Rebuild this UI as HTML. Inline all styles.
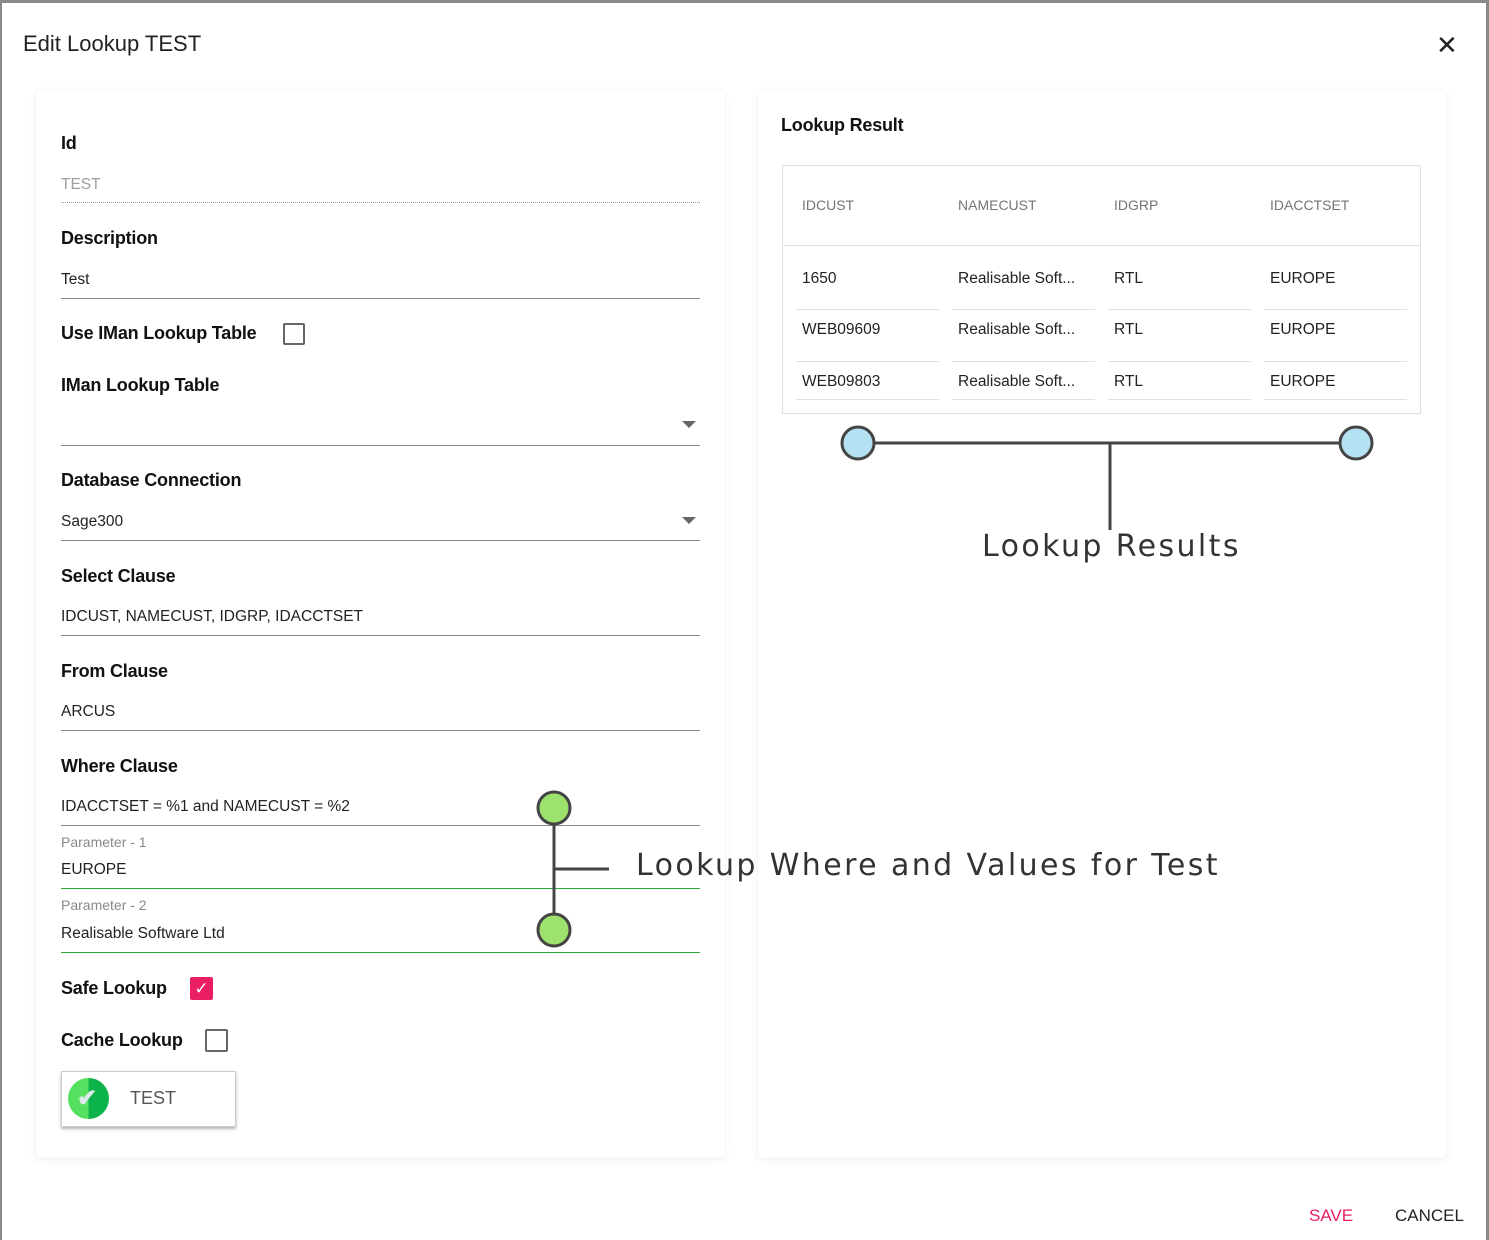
<!DOCTYPE html>
<html><head><style>
*{margin:0;padding:0;box-sizing:border-box}
body{width:1489px;height:1240px;background:#fff;font-family:"Liberation Sans",Roboto,sans-serif;position:relative;overflow:hidden;color:#212121}
.a{position:absolute;white-space:nowrap}
.lbl{font-size:18px;color:#111;font-weight:bold;letter-spacing:-0.2px}
.val{font-size:15.5px;color:#222;margin-top:2px}
.line{position:absolute;height:1px;background:#888}
.card{position:absolute;background:#fff;box-shadow:0 2px 8px rgba(0,0,0,0.06),0 0 2px rgba(0,0,0,0.04);border-radius:4px}
.th{font-size:14px;color:#757575;margin-top:1px}
.td{font-size:15.5px;color:#222;margin-top:2px}
.ann{font-family:"DejaVu Sans",sans-serif;font-size:30px;color:#333;letter-spacing:2.4px}
</style></head><body>
<div class="a" style="left:0;top:0;width:1489px;height:3px;background:#8a8a8a"></div>
<div class="a" style="left:0;top:0;width:2px;height:1240px;background:#8a8a8a"></div>
<div class="a" style="left:1486px;top:0;width:3px;height:1240px;background:#8a8a8a"></div>
<div class="a" style="left:23px;top:31px;font-size:22px;color:#222">Edit Lookup TEST</div>
<div class="a" style="left:1436px;top:30px;font-size:26px;color:#222">✕</div>

<div class="card" style="left:36px;top:90px;width:689px;height:1068px"></div>
<div class="card" style="left:758px;top:90px;width:688px;height:1068px"></div>

<div class="a lbl" style="left:61px;top:133px">Id</div>
<div class="a val" style="left:61px;top:174px;color:#9e9e9e">TEST</div>
<div class="a" style="left:61px;top:202px;width:639px;border-top:1px dotted #999"></div>

<div class="a lbl" style="left:61px;top:228px">Description</div>
<div class="a val" style="left:61px;top:269px">Test</div>
<div class="line" style="left:61px;top:298px;width:639px"></div>

<div class="a lbl" style="left:61px;top:323px">Use IMan Lookup Table</div>
<div class="a" style="left:283px;top:323px;width:22px;height:22px;border:2px solid #666;border-radius:2px"></div>

<div class="a lbl" style="left:61px;top:375px">IMan Lookup Table</div>
<div class="a" style="left:682px;top:421px;border-left:7px solid transparent;border-right:7px solid transparent;border-top:7px solid #666"></div>
<div class="line" style="left:61px;top:445px;width:639px"></div>

<div class="a lbl" style="left:61px;top:470px">Database Connection</div>
<div class="a val" style="left:61px;top:511px">Sage300</div>
<div class="a" style="left:682px;top:517px;border-left:7px solid transparent;border-right:7px solid transparent;border-top:7px solid #666"></div>
<div class="line" style="left:61px;top:540px;width:639px"></div>

<div class="a lbl" style="left:61px;top:566px">Select Clause</div>
<div class="a val" style="left:61px;top:606px">IDCUST, NAMECUST, IDGRP, IDACCTSET</div>
<div class="line" style="left:61px;top:635px;width:639px"></div>

<div class="a lbl" style="left:61px;top:661px">From Clause</div>
<div class="a val" style="left:61px;top:701px">ARCUS</div>
<div class="line" style="left:61px;top:730px;width:639px"></div>

<div class="a lbl" style="left:61px;top:756px">Where Clause</div>
<div class="a val" style="left:61px;top:796px">IDACCTSET = %1 and NAMECUST = %2</div>
<div class="line" style="left:61px;top:825px;width:639px"></div>

<div class="a" style="left:61px;top:834px;font-size:14px;color:#888">Parameter - 1</div>
<div class="a val" style="left:61px;top:859px">EUROPE</div>
<div class="line" style="left:61px;top:888px;width:639px;background:#2ea83a"></div>
<div class="a" style="left:61px;top:897px;font-size:14px;color:#888">Parameter - 2</div>
<div class="a val" style="left:61px;top:923px">Realisable Software Ltd</div>
<div class="line" style="left:61px;top:952px;width:639px;background:#2ea83a"></div>

<div class="a lbl" style="left:61px;top:978px">Safe Lookup</div>
<div class="a" style="left:190px;top:977px;width:23px;height:23px;background:#e91e63;border-radius:2px;color:#fff;font-size:17px;text-align:center;line-height:23px">✓</div>
<div class="a lbl" style="left:61px;top:1030px">Cache Lookup</div>
<div class="a" style="left:205px;top:1029px;width:23px;height:23px;border:2px solid #666;border-radius:2px"></div>

<div class="a" style="left:61px;top:1071px;width:175px;height:56px;border:1px solid #ccc;box-shadow:0 2px 3px rgba(0,0,0,0.3);background:#fff"></div>
<div class="a" style="left:68px;top:1078px;width:41px;height:41px;border-radius:50%;background:linear-gradient(90deg,#55e060 50%,#0bb34a 50%)"></div>
<div class="a" style="left:77px;top:1084px;font-size:24px;color:#dde8ea;font-weight:bold">✔</div>
<div class="a" style="left:130px;top:1088px;font-size:18px;color:#555">TEST</div>

<div class="a" style="left:781px;top:115px;font-size:18px;font-weight:bold;color:#111;letter-spacing:-0.2px">Lookup Result</div>
<div class="a" style="left:782px;top:165px;width:639px;height:249px;border:1px solid #e0e0e0"></div>
<div class="line" style="left:783px;top:245px;width:637px;background:#e0e0e0"></div>
<div class="a th" style="left:802px;top:196px">IDCUST</div>
<div class="a th" style="left:958px;top:196px">NAMECUST</div>
<div class="a th" style="left:1114px;top:196px">IDGRP</div>
<div class="a th" style="left:1270px;top:196px">IDACCTSET</div>
<div class="a td" style="left:802px;top:268px">1650</div><div class="a td" style="left:958px;top:268px">Realisable Soft...</div><div class="a td" style="left:1114px;top:268px">RTL</div><div class="a td" style="left:1270px;top:268px">EUROPE</div>
<div class="a td" style="left:802px;top:319px">WEB09609</div><div class="a td" style="left:958px;top:319px">Realisable Soft...</div><div class="a td" style="left:1114px;top:319px">RTL</div><div class="a td" style="left:1270px;top:319px">EUROPE</div>
<div class="a td" style="left:802px;top:371px">WEB09803</div><div class="a td" style="left:958px;top:371px">Realisable Soft...</div><div class="a td" style="left:1114px;top:371px">RTL</div><div class="a td" style="left:1270px;top:371px">EUROPE</div>
<div class="line" style="left:796px;top:309px;width:143px;background:#e0e0e0"></div><div class="line" style="left:952px;top:309px;width:143px;background:#e0e0e0"></div><div class="line" style="left:1108px;top:309px;width:143px;background:#e0e0e0"></div><div class="line" style="left:1264px;top:309px;width:143px;background:#e0e0e0"></div>
<div class="line" style="left:796px;top:361px;width:143px;background:#e0e0e0"></div><div class="line" style="left:952px;top:361px;width:143px;background:#e0e0e0"></div><div class="line" style="left:1108px;top:361px;width:143px;background:#e0e0e0"></div><div class="line" style="left:1264px;top:361px;width:143px;background:#e0e0e0"></div>
<div class="line" style="left:796px;top:399px;width:143px;background:#e0e0e0"></div><div class="line" style="left:952px;top:399px;width:143px;background:#e0e0e0"></div><div class="line" style="left:1108px;top:399px;width:143px;background:#e0e0e0"></div><div class="line" style="left:1264px;top:399px;width:143px;background:#e0e0e0"></div>

<svg class="a" style="left:0;top:0" width="1489" height="1240">
<g stroke="#444" stroke-width="3">
<line x1="858" y1="443" x2="1356" y2="443"/>
<line x1="1110" y1="443" x2="1110" y2="530"/>
<circle cx="858" cy="443" r="16" fill="#b4e2f2"/>
<circle cx="1356" cy="443" r="16" fill="#b4e2f2"/>
<line x1="554" y1="808" x2="554" y2="930"/>
<line x1="554" y1="869" x2="609" y2="869"/>
<circle cx="554" cy="808" r="16" fill="#9de26c"/>
<circle cx="554" cy="930" r="16" fill="#9de26c"/>
</g></svg>
<div class="a ann" style="left:982px;top:529px">Lookup Results</div>
<div class="a ann" style="left:636px;top:848px">Lookup Where and Values for Test</div>

<div class="a" style="left:1309px;top:1206px;font-size:17px;color:#e91e63;font-weight:500">SAVE</div>
<div class="a" style="left:1395px;top:1206px;font-size:17px;color:#222;font-weight:500">CANCEL</div>
</body></html>
